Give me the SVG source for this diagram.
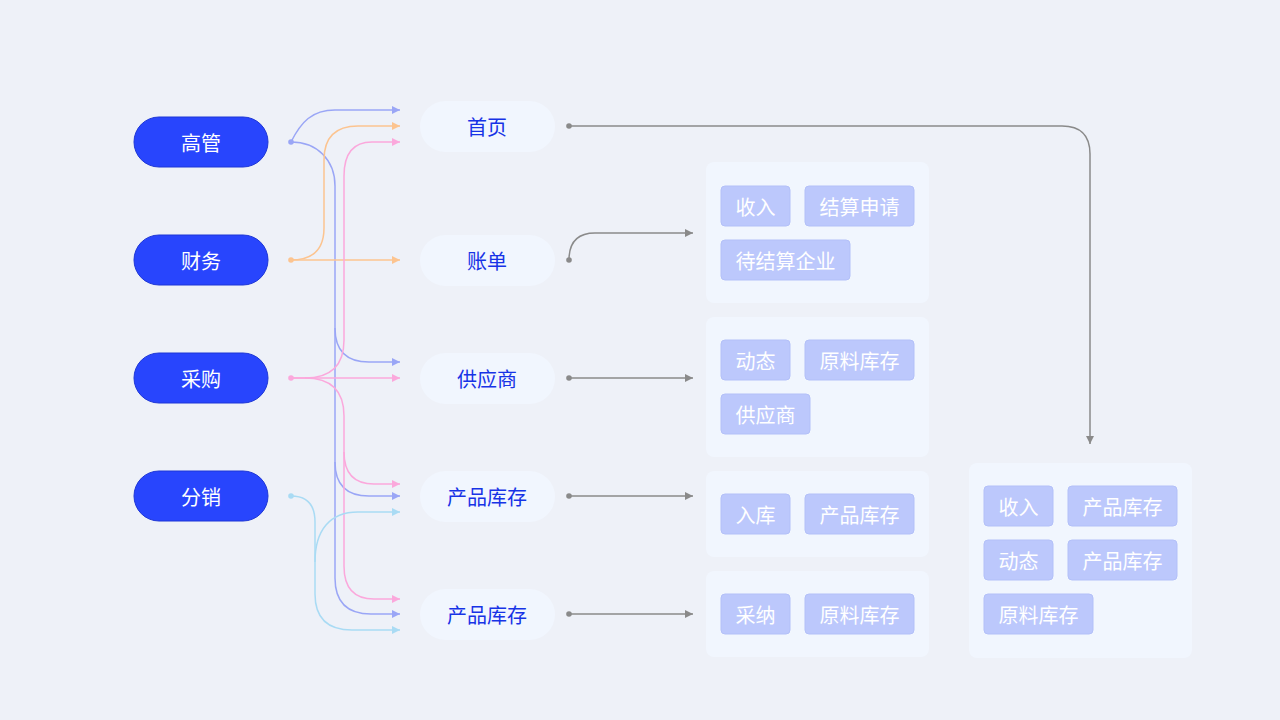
<svg xmlns="http://www.w3.org/2000/svg" width="1280" height="720" viewBox="0 0 1280 720">
<style>
text{font-family:"Noto Sans CJK SC","Noto Sans",sans-serif;font-size:20px;text-anchor:middle;dominant-baseline:central}
.role rect{fill:#2845fd;stroke:#1d36d6;stroke-width:1}
.role text{fill:#ffffff}
.page rect{fill:#f1f6fe}
.page text{fill:#1733e6}
.box{fill:#f1f6fe}
.tag rect{fill:#bcc8fc;stroke:#b3c0f8;stroke-width:1}
.tag text{fill:#ffffff}
.c{fill:none;stroke-width:1.5}
.b{stroke:#9aa6f6}.o{stroke:#fcc490}.p{stroke:#fba8dc}.s{stroke:#a9dbf4}.g{stroke:#8a8a8a}
</style>
<defs>
<marker id="mb" markerUnits="userSpaceOnUse" markerWidth="9" markerHeight="9" refX="8" refY="4.5" orient="auto"><path d="M0,0.5 L8,4.5 L0,8.5 z" fill="#9aa6f6"/></marker>
<marker id="mo" markerUnits="userSpaceOnUse" markerWidth="9" markerHeight="9" refX="8" refY="4.5" orient="auto"><path d="M0,0.5 L8,4.5 L0,8.5 z" fill="#fcc490"/></marker>
<marker id="mp" markerUnits="userSpaceOnUse" markerWidth="9" markerHeight="9" refX="8" refY="4.5" orient="auto"><path d="M0,0.5 L8,4.5 L0,8.5 z" fill="#fba8dc"/></marker>
<marker id="ms" markerUnits="userSpaceOnUse" markerWidth="9" markerHeight="9" refX="8" refY="4.5" orient="auto"><path d="M0,0.5 L8,4.5 L0,8.5 z" fill="#a9dbf4"/></marker>
<marker id="mg" markerUnits="userSpaceOnUse" markerWidth="9" markerHeight="9" refX="8" refY="4.5" orient="auto"><path d="M0,0.5 L8,4.5 L0,8.5 z" fill="#8a8a8a"/></marker>
</defs>
<rect width="1280" height="720" fill="#eef1f8"/>

<g id="connectors">
  <path class="c b" d="M291,142 C301,122 312,110 335,110 H400" marker-end="url(#mb)"/>
  <path class="c b" d="M291,142 C317,142 335,160 335,186 V328 Q335,362 369,362 H400" marker-end="url(#mb)"/>
  <path class="c b" d="M335,328 V462 Q335,496 369,496 H400" marker-end="url(#mb)"/>
  <path class="c b" d="M335,462 V578 Q335,614 371,614 H400" marker-end="url(#mb)"/>
  <path class="c o" d="M291,260 H400" marker-end="url(#mo)"/>
  <path class="c o" d="M291,260 Q324,260 324,228 V160 Q324,126 358,126 H400" marker-end="url(#mo)"/>
  <path class="c p" d="M291,378 H400" marker-end="url(#mp)"/>
  <path class="c p" d="M291,378 H305 Q344,378 344,340 V176 Q344,142 372,142 H400" marker-end="url(#mp)"/>
  <path class="c p" d="M305,378 Q344,378 344,416 V452 Q344,484 374,484 H400" marker-end="url(#mp)"/>
  <path class="c p" d="M344,452 V566 Q344,599 374,599 H400" marker-end="url(#mp)"/>
  <path class="c s" d="M291,496 Q315,496 315,522 V594 Q315,630 352,630 H400" marker-end="url(#ms)"/>
  <path class="c s" d="M315,562 C315,530 330,512 358,512 H400" marker-end="url(#ms)"/>
  <path class="c g" d="M569,126 H1062 Q1090,126 1090,154 V444" marker-end="url(#mg)"/>
  <path class="c g" d="M569,260 C569,241 578,233 595,233 H693" marker-end="url(#mg)"/>
  <path class="c g" d="M569,378 H693" marker-end="url(#mg)"/>
  <path class="c g" d="M569,496 H693" marker-end="url(#mg)"/>
  <path class="c g" d="M569,614 H693" marker-end="url(#mg)"/>
  <circle cx="291" cy="142" r="2.8" fill="#9aa6f6"/>
  <circle cx="291" cy="260" r="2.8" fill="#fcc490"/>
  <circle cx="291" cy="378" r="2.8" fill="#fba8dc"/>
  <circle cx="291" cy="496" r="2.8" fill="#a9dbf4"/>
  <circle cx="569" cy="126" r="2.8" fill="#8a8a8a"/>
  <circle cx="569" cy="260" r="2.8" fill="#8a8a8a"/>
  <circle cx="569" cy="378" r="2.8" fill="#8a8a8a"/>
  <circle cx="569" cy="496" r="2.8" fill="#8a8a8a"/>
  <circle cx="569" cy="614" r="2.8" fill="#8a8a8a"/>
</g>

<g id="role-gaoguan" class="role"><rect x="134" y="117" width="134" height="50" rx="25"/><text x="201" y="142">高管</text></g>
<g id="role-caiwu" class="role"><rect x="134" y="235" width="134" height="50" rx="25"/><text x="201" y="260">财务</text></g>
<g id="role-caigou" class="role"><rect x="134" y="353" width="134" height="50" rx="25"/><text x="201" y="378">采购</text></g>
<g id="role-fenxiao" class="role"><rect x="134" y="471" width="134" height="50" rx="25"/><text x="201" y="496">分销</text></g>

<g id="page-home" class="page"><rect x="420" y="101" width="135" height="51" rx="25.5"/><text x="487" y="126">首页</text></g>
<g id="page-bill" class="page"><rect x="420" y="235" width="135" height="51" rx="25.5"/><text x="487" y="260">账单</text></g>
<g id="page-supplier" class="page"><rect x="420" y="353" width="135" height="51" rx="25.5"/><text x="487" y="378">供应商</text></g>
<g id="page-stock1" class="page"><rect x="420" y="471" width="135" height="51" rx="25.5"/><text x="487" y="496">产品库存</text></g>
<g id="page-stock2" class="page"><rect x="420" y="589" width="135" height="51" rx="25.5"/><text x="487" y="614">产品库存</text></g>

<g id="box-bill">
  <rect class="box" x="706" y="162" width="223" height="141" rx="8"/>
  <g class="tag"><rect x="721" y="186" width="69" height="40" rx="4"/><text x="755.5" y="206">收入</text></g>
  <g class="tag"><rect x="805" y="186" width="109" height="40" rx="4"/><text x="859.5" y="206">结算申请</text></g>
  <g class="tag"><rect x="721" y="240" width="129" height="40" rx="4"/><text x="785.5" y="260">待结算企业</text></g>
</g>
<g id="box-supplier">
  <rect class="box" x="706" y="317" width="223" height="140" rx="8"/>
  <g class="tag"><rect x="721" y="340" width="69" height="40" rx="4"/><text x="755.5" y="360">动态</text></g>
  <g class="tag"><rect x="805" y="340" width="109" height="40" rx="4"/><text x="859.5" y="360">原料库存</text></g>
  <g class="tag"><rect x="721" y="394" width="89" height="40" rx="4"/><text x="765.5" y="414">供应商</text></g>
</g>
<g id="box-stock1">
  <rect class="box" x="706" y="471" width="223" height="86" rx="8"/>
  <g class="tag"><rect x="721" y="494" width="69" height="40" rx="4"/><text x="755.5" y="514">入库</text></g>
  <g class="tag"><rect x="805" y="494" width="109" height="40" rx="4"/><text x="859.5" y="514">产品库存</text></g>
</g>
<g id="box-stock2">
  <rect class="box" x="706" y="571" width="223" height="86" rx="8"/>
  <g class="tag"><rect x="721" y="594" width="69" height="40" rx="4"/><text x="755.5" y="614">采纳</text></g>
  <g class="tag"><rect x="805" y="594" width="109" height="40" rx="4"/><text x="859.5" y="614">原料库存</text></g>
</g>
<g id="box-home">
  <rect class="box" x="969" y="463" width="223" height="195" rx="8"/>
  <g class="tag"><rect x="984" y="486" width="69" height="40" rx="4"/><text x="1018.5" y="506">收入</text></g>
  <g class="tag"><rect x="1068" y="486" width="109" height="40" rx="4"/><text x="1122.5" y="506">产品库存</text></g>
  <g class="tag"><rect x="984" y="540" width="69" height="40" rx="4"/><text x="1018.5" y="560">动态</text></g>
  <g class="tag"><rect x="1068" y="540" width="109" height="40" rx="4"/><text x="1122.5" y="560">产品库存</text></g>
  <g class="tag"><rect x="984" y="594" width="109" height="40" rx="4"/><text x="1038.5" y="614">原料库存</text></g>
</g>
</svg>
